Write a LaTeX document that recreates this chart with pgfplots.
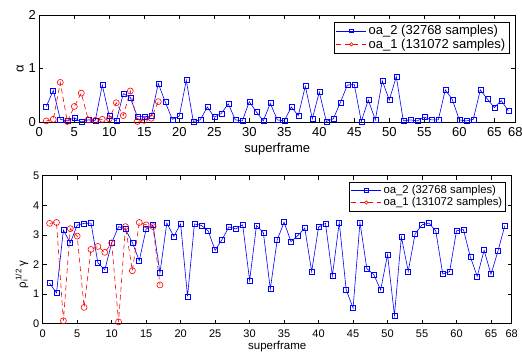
\documentclass[border=0pt]{standalone}
\usepackage{pgfplots}
\pgfplotsset{compat=1.18}
\usepackage{fontspec}
\setmainfont{Liberation Sans}
\begin{document}
\begin{tikzpicture}
\pgfplotsset{
  mystyle/.style={
    scale only axis,
    axis line style={line width=0.6pt},
    every tick/.style={black, line width=0.5pt},
    major tick length=4pt,
    tick align=inside,
    xmin=0, xmax=68,
    xtick={0,5,10,15,20,25,30,35,40,45,50,55,60,65,68},
    /pgf/number format/assume math mode=true,
    xlabel={superframe},
    legend cell align=left,
    legend image code/.code={
      \draw[mark repeat=2,mark phase=2,mark size=1.7pt] plot coordinates {(0pt,0pt) (15pt,0pt) (30pt,0pt)};
    },
  },
  bl/.style={color=blue, mark=square, mark size=2.5pt, line width=0.6pt, mark options={solid}},
  rd/.style={color=red, dash pattern=on 5pt off 3.5pt, mark=o, mark size=3pt, line width=0.6pt, mark options={solid}},
}
\useasboundingbox (0pt,0pt) rectangle (522pt,351pt);
% ---------------- top axis
\begin{axis}[mystyle,
  at={(39.3pt,229pt)}, anchor=south west,
  width=476pt, height=107pt,
  ymin=0, ymax=2, ytick={0,1,2},
  tick label style={font=\fontsize{13}{15}\selectfont},
  label style={font=\fontsize{13}{15}\selectfont},
  xticklabel style={yshift=-2pt},
  ylabel={α},
  ylabel style={yshift=-2pt},
  xlabel style={yshift=1pt},
  legend style={at={(0.987,0.9375)}, anchor=north east, draw=black, line width=0.6pt, fill=white,
    font=\fontsize{13}{14}\selectfont, inner sep=1.5pt, row sep=-1.5pt},
]
\addplot[bl] coordinates {
(1,0.29)(2,0.59)(3,0.05)(4,0.02)(5,0.08)(6,0.00)(7,0.04)(8,0.03)(9,0.69)(10,0.11)
(11,0.02)(12,0.53)(13,0.46)(14,0.10)(15,0.10)(16,0.11)(17,0.72)(18,0.37)(19,0.05)(20,0.11)
(21,0.78)(22,0.01)(23,0.04)(24,0.28)(25,0.09)(26,0.16)(27,0.34)(28,0.04)(29,0.02)(30,0.38)
(31,0.19)(32,0.02)(33,0.35)(34,0.04)(35,0.02)(36,0.28)(37,0.12)(38,0.67)(39,0.06)(40,0.56)
(41,0.01)(42,0.06)(43,0.36)(44,0.69)(45,0.70)(46,0.01)(47,0.41)(48,0.04)(49,0.77)(50,0.41)
(51,0.85)(52,0.02)(53,0.04)(54,0.02)(55,0.09)(56,0.04)(57,0.04)(58,0.60)(59,0.42)(60,0.04)
(61,0.02)(62,0.05)(63,0.60)(64,0.43)(65,0.27)(66,0.40)(67,0.21)
};
\addlegendentry{oa\_2 (32768 samples)}
\addplot[rd] coordinates {
(1,0.02)(2,0.05)(3,0.74)(4,0.01)(5,0.29)(6,0.54)(7,0.04)(8,0.03)(9,0.05)(10,0.06)
(11,0.36)(12,0.12)(13,0.58)(14,0.01)(15,0.03)(16,0.07)(17,0.38)
};
\addlegendentry{oa\_1 (131072 samples)}
\end{axis}
% ---------------- bottom axis
\begin{axis}[mystyle,
  at={(42.7pt,27.3pt)}, anchor=south west,
  width=469pt, height=148pt,
  ymin=0, ymax=5, ytick={0,1,2,3,4,5},
  tick label style={font=\fontsize{11}{13}\selectfont},
  label style={font=\fontsize{11.5}{13}\selectfont},
  xticklabel style={yshift=-2.5pt},
  ylabel={ρ\rlap{\textsubscript{i}}\textsuperscript{\,1/2}\,γ},
  ylabel style={at={(ticklabel cs:0.33)}, yshift=-2pt},
  xlabel style={yshift=3pt},
  legend style={at={(0.988,0.959)}, anchor=north east, draw=black, line width=0.6pt, fill=white,
    font=\fontsize{11.3}{12}\selectfont, inner sep=1.5pt, row sep=-1.5pt},
]
\addplot[bl] coordinates {
(1,1.37)(2,1.04)(3,3.16)(4,2.73)(5,3.33)(6,3.39)(7,3.40)(8,2.06)(9,1.82)(10,2.73)
(11,3.28)(12,3.19)(13,2.74)(14,2.13)(15,3.20)(16,3.33)(17,1.72)(18,3.40)(19,2.95)(20,3.37)
(21,0.92)(22,3.37)(23,3.32)(24,3.13)(25,2.48)(26,2.84)(27,3.27)(28,3.20)(29,3.34)(30,1.46)
(31,3.32)(32,3.07)(33,1.17)(34,2.83)(35,3.43)(36,2.77)(37,2.98)(38,3.23)(39,1.76)(40,3.27)
(41,3.39)(42,1.62)(43,3.42)(44,1.15)(45,0.53)(46,3.42)(47,1.86)(48,1.66)(49,1.14)(50,2.33)
(51,0.28)(52,2.93)(53,1.77)(54,3.04)(55,3.34)(56,3.40)(57,3.13)(58,1.68)(59,1.76)(60,3.14)
(61,3.18)(62,2.26)(63,1.60)(64,2.48)(65,1.67)(66,2.45)(67,3.31)
};
\addlegendentry{oa\_2 (32768 samples)}
\addplot[rd] coordinates {
(1,3.39)(2,3.42)(3,0.10)(4,3.21)(5,2.96)(6,0.55)(7,2.51)(8,2.61)(9,2.41)(10,2.73)
(11,0.06)(12,3.28)(13,1.79)(14,3.42)(15,3.34)(16,3.28)(17,1.31)
};
\addlegendentry{oa\_1 (131072 samples)}
\end{axis}
\end{tikzpicture}
\end{document}
